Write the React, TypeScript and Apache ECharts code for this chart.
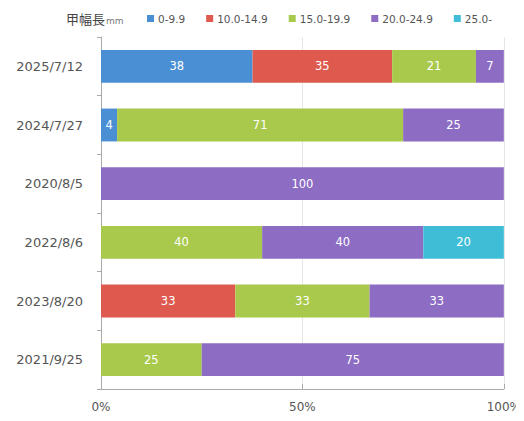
import React, { useEffect, useRef } from "react";
import * as echarts from "echarts";

const categories = ["2025/7/12", "2024/7/27", "2020/8/5", "2022/8/6", "2023/8/20", "2021/9/25"];
const seriesNames = ["0-9.9", "10.0-14.9", "15.0-19.9", "20.0-24.9", "25.0-"];
const s0 = [38, 4, 0, 0, 0, 0];
const s1 = [35, 0, 0, 0, 33, 0];
const s2 = [21, 71, 0, 40, 33, 25];
const s3 = [7, 25, 100, 40, 33, 75];
const s4 = [0, 0, 0, 20, 0, 0];
const colors = ["#4a8fd4", "#de5a4e", "#a9c94c", "#8d6cc4", "#3fbdd6"];
const xTicks = ["0%", "50%", "100%"];

const FONT = "DejaVu Sans, Verdana, sans-serif";

export default function App() {
  const ref = useRef<HTMLDivElement>(null);
  useEffect(() => {
    if (!ref.current) return;
    const chart = echarts.init(ref.current, null, { renderer: "svg" });
    const all = [s0, s1, s2, s3, s4];
    const totals = categories.map((_, i) => all.reduce((a, s) => a + s[i], 0));
    const series = all.map((s, k) => ({
      name: seriesNames[k],
      type: "bar",
      stack: "total",
      barWidth: "56%",
      itemStyle: { color: colors[k] },
      label: {
        show: true,
        position: "inside",
        color: "#fff",
        fontSize: 11.5,
        fontFamily: FONT,
        formatter: (p: any) => (p.data.raw ? String(p.data.raw) : ""),
      },
      data: s.map((v, i) => ({ value: v ? (v / totals[i]) * 100 : null, raw: v })),
    }));
    chart.setOption({
      animation: false,
      textStyle: { fontFamily: FONT },
      title: {
        text: "{a|甲幅長}{b|mm}",
        left: 53,
        top: -1,
        textStyle: {
          fontWeight: "normal",
          rich: {
            a: { fontSize: 13, color: "#444", fontWeight: "normal", fontFamily: "Noto Sans CJK JP" },
            b: { fontSize: 9, color: "#777", fontWeight: "normal", fontFamily: FONT, padding: [4, 0, 0, 1] },
          },
        },
      },
      legend: {
        left: 134,
        top: 0,
        itemWidth: 7,
        itemHeight: 7,
        itemGap: 21,
        icon: "rect",
        textStyle: { fontSize: 10.5, color: "#555", fontFamily: FONT, padding: [0, 0, 0, -1] },
        data: seriesNames,
      },
      grid: { left: 93, right: 16, top: 29, bottom: 32 },
      xAxis: {
        type: "value",
        min: 0,
        max: 100,
        interval: 50,
        axisLine: { show: true, lineStyle: { color: "#aaa" } },
        axisTick: { show: true, inside: true, length: 5, lineStyle: { color: "#aaa" } },
        splitLine: { show: true, lineStyle: { color: "#e6e6e6" } },
        axisLabel: {
          fontSize: 12,
          color: "#555",
          fontFamily: FONT,
          margin: 12,
          formatter: (v: number) => xTicks[Math.round(v / 50)] ?? "",
        },
      },
      yAxis: {
        type: "category",
        inverse: true,
        data: categories,
        axisLine: { show: true, lineStyle: { color: "#aaa" } },
        axisTick: { show: true, length: 4, lineStyle: { color: "#aaa" } },
        axisLabel: { fontSize: 13, color: "#555", fontFamily: FONT, margin: 18 },
      },
      series,
    });
    return () => chart.dispose();
  }, []);
  return <div ref={ref} style={{ width: 516, height: 413 }} />;
}
